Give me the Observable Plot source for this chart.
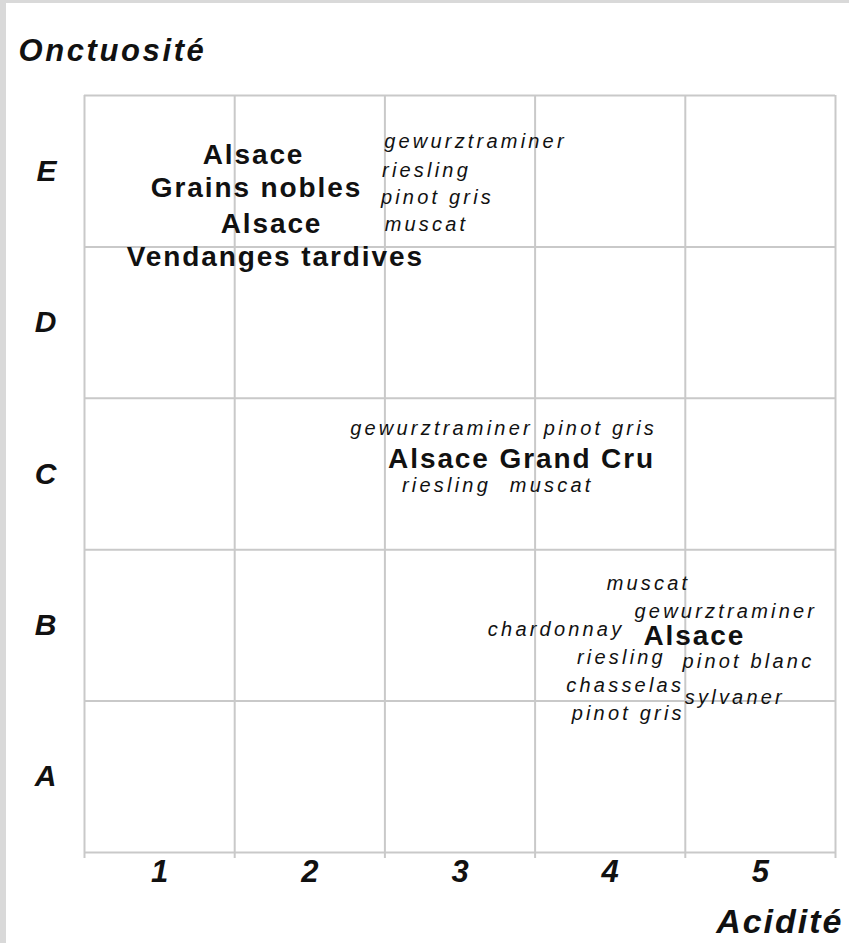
<!DOCTYPE html>
<html>
<head>
<meta charset="utf-8">
<script src="https://cdn.jsdelivr.net/npm/d3@7"></script>
<script src="https://cdn.jsdelivr.net/npm/@observablehq/plot@0.6"></script>
<style>
  html, body { margin: 0; padding: 0; background: #fff; }
  #wrap { position: relative; width: 849px; height: 943px; overflow: hidden; background: #fff; }
  #bl { position: absolute; left: 0; top: 0; width: 6px; height: 943px; background: #d9d9d9; }
  #bt { position: absolute; left: 0; top: 0; width: 849px; height: 3px; background: #d9d9d9; }
  #chart { position: absolute; left: 0; top: 0; }
  svg text { font-family: "Liberation Sans", Arial, sans-serif; fill: #111; }
  .tick-lab text { font-weight: bold; font-style: italic; font-size: 31px; }
  .ytick-lab text { font-weight: bold; font-style: italic; font-size: 30px; letter-spacing: 0px; }
  .bold-lab text { letter-spacing: 1.9px; }
  .ital-lab text { letter-spacing: 3.2px; }
  .ytitle text { letter-spacing: 2.6px; }
  .xtitle text { letter-spacing: 2px; }
</style>
</head>
<body>
<div id="wrap"><div id="chart"></div><div id="bl"></div><div id="bt"></div></div>
<script>
// Axis categories
const acidityTicks = [1, 2, 3, 4, 5];
const unctuousnessTicks = ["A", "B", "C", "D", "E"];
const gridLines = [0.5, 1.5, 2.5, 3.5, 4.5, 5.5];

// Wine labels (positions in acidity / unctuousness units)
const wineText = [
  "Alsace", "Grains nobles", "Alsace", "Vendanges tardives",
  "gewurztraminer", "riesling", "pinot gris", "muscat",
  "gewurztraminer", "pinot gris", "Alsace Grand Cru", "riesling", "muscat",
  "muscat", "gewurztraminer", "chardonnay", "Alsace", "riesling", "pinot blanc",
  "chasselas", "sylvaner", "pinot gris"
];
const wineX = [
  1.625, 1.645, 1.745, 1.77,
  3.103, 2.777, 2.85, 2.777,
  2.877, 3.935, 3.41, 2.91, 3.61,
  4.255, 4.77, 3.64, 4.56, 4.075, 4.92,
  4.10, 4.83, 4.12
];
const wineY = [
  5.104, 4.89, 4.65, 4.43,
  5.196, 5.005, 4.826, 4.648,
  3.30, 3.30, 3.10, 2.924, 2.924,
  2.277, 2.09, 1.97, 1.93, 1.79, 1.76,
  1.60, 1.52, 1.42
];
const wineBold = [
  true, true, true, true,
  false, false, false, false,
  false, false, true, false, false,
  false, false, false, true, false, false,
  false, false, false
];

const wines = wineText.map((t, i) => ({ t, x: wineX[i], y: wineY[i], bold: wineBold[i] }));
const boldWines = wines.filter(d => d.bold);
const italicWines = wines.filter(d => !d.bold);

const gridColor = "#c9c9c9";

const plot = Plot.plot({
  width: 849,
  height: 943,
  marginLeft: 84,
  marginTop: 95,
  marginRight: 14,
  marginBottom: 91,
  style: { background: "transparent", fontFamily: "Liberation Sans, Arial, sans-serif", overflow: "visible" },
  x: { domain: [0.5, 5.5] },
  y: { domain: [0.5, 5.5] },
  marks: [
    Plot.ruleX(gridLines, { stroke: gridColor, strokeWidth: 2 }),
    Plot.ruleY(gridLines, { stroke: gridColor, strokeWidth: 2 }),
    Plot.axisX(gridLines, { tickSize: 6, stroke: gridColor, strokeWidth: 2, tickFormat: () => "", label: null }),
    Plot.axisX(acidityTicks, { tickSize: 0, tickPadding: 7, tickFormat: d => String(d), className: "tick-lab", label: null }),
    Plot.axisY(acidityTicks, { tickSize: 0, tickPadding: 28, tickFormat: d => unctuousnessTicks[d - 1], className: "ytick-lab", label: null }),
    Plot.text(boldWines, {
      x: "x", y: "y", text: "t", textAnchor: "middle", lineAnchor: "middle",
      fontSize: 28, fontWeight: "bold", fill: "#111", className: "bold-lab"
    }),
    Plot.text(italicWines, {
      x: "x", y: "y", text: "t", textAnchor: "middle", lineAnchor: "middle",
      fontSize: 20, fontStyle: "italic", fill: "#111", className: "ital-lab"
    }),
    Plot.text(["Onctuosité"], {
      frameAnchor: "top-left", textAnchor: "start", lineAnchor: "middle",
      dx: -66, dy: -44, fontSize: 31, fontWeight: "bold", fontStyle: "italic", fill: "#111", className: "ytitle"
    }),
    Plot.text(["Acidité"], {
      frameAnchor: "bottom-right", textAnchor: "end", lineAnchor: "middle",
      dx: 8, dy: 70, fontSize: 34, fontWeight: "bold", fontStyle: "italic", fill: "#111", className: "xtitle"
    })
  ]
});
document.getElementById("chart").appendChild(plot);
</script>
</body>
</html>
